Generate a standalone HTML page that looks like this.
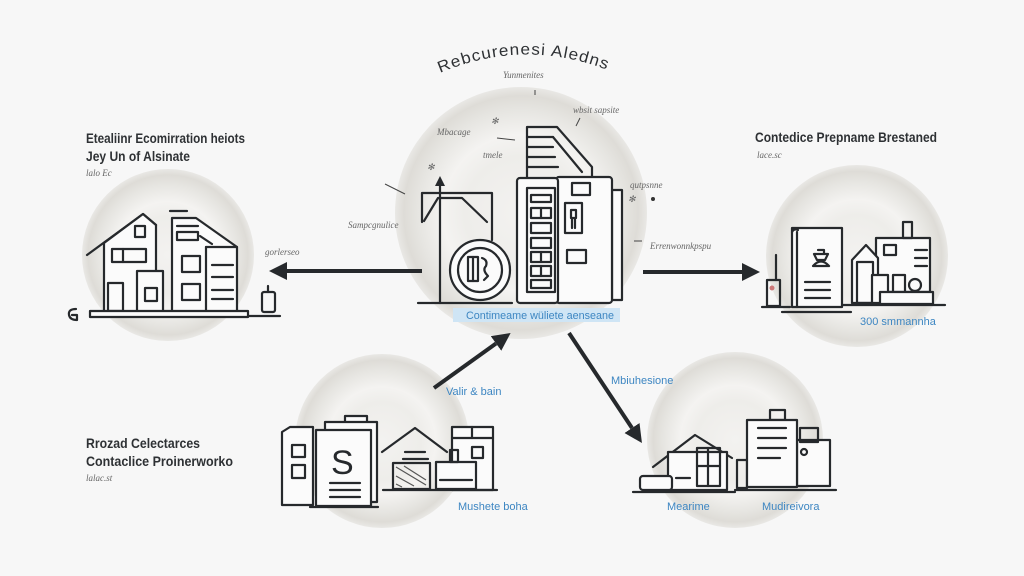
<!DOCTYPE html>
<html><head><meta charset="utf-8"><style>
html,body{margin:0;padding:0;background:#f7f7f7;}
svg{display:block;}
.t{font-family:"Liberation Sans",sans-serif;}
.h{font-family:"Liberation Sans",sans-serif;font-weight:bold;fill:#2e3134;font-size:14px;}
.s{font-family:"Liberation Serif",serif;font-style:italic;fill:#666;font-size:9px;}
.b{font-family:"Liberation Sans",sans-serif;fill:#3d86c2;font-size:11px;}
.k{fill:none;stroke:#26292c;stroke-width:2.2;stroke-linejoin:round;stroke-linecap:round;}
.kw{fill:#fbfbfb;stroke:#26292c;stroke-width:2.2;stroke-linejoin:round;}
.thin{fill:none;stroke:#444;stroke-width:1;}
</style></head><body>
<svg width="1024" height="576" viewBox="0 0 1024 576" xmlns="http://www.w3.org/2000/svg">
<defs>
<radialGradient id="g" cx="50%" cy="50%" r="50%">
<stop offset="0" stop-color="#f3f2f0"/>
<stop offset="0.45" stop-color="#eeedea"/>
<stop offset="0.62" stop-color="#f4f3f1"/>
<stop offset="0.82" stop-color="#e6e5e1"/>
<stop offset="0.93" stop-color="#dedcd7"/>
<stop offset="1" stop-color="#e9e8e5"/>
</radialGradient>
<marker id="ah" markerWidth="20" markerHeight="20" refX="0" refY="9" orient="auto" markerUnits="userSpaceOnUse"><path d="M0,0 L18,9 L0,18 Z" fill="#26292c"/></marker>
</defs>
<rect width="1024" height="576" fill="#f7f7f7"/>

<!-- circles -->
<circle cx="521" cy="213" r="126" fill="url(#g)"/>
<circle cx="168" cy="255" r="86" fill="url(#g)"/>
<circle cx="857" cy="256" r="91" fill="url(#g)"/>
<circle cx="382" cy="441" r="87" fill="url(#g)"/>
<circle cx="735" cy="440" r="88" fill="url(#g)"/>

<!-- title -->
<path id="arc" d="M440,73 Q527,36 615,73" fill="none"/>
<text class="t" font-size="16" fill="#2e3134" letter-spacing="1"><textPath href="#arc" textLength="172" lengthAdjust="spacingAndGlyphs">Rebcurenesi Aledns</textPath></text>

<!-- headings -->
<text class="h" x="86" y="143" textLength="159" lengthAdjust="spacingAndGlyphs">Etealiinr Ecomirration heiots</text>
<text class="h" x="86" y="161" textLength="104" lengthAdjust="spacingAndGlyphs">Jey Un of Alsinate</text>
<text class="s" x="86" y="176">lalo Ec</text>

<text class="h" x="755" y="142" textLength="182" lengthAdjust="spacingAndGlyphs">Contedice Prepname Brestaned</text>
<text class="s" x="757" y="158">lace.sc</text>

<text class="h" x="86" y="448" textLength="114" lengthAdjust="spacingAndGlyphs">Rrozad Celectarces</text>
<text class="h" x="86" y="466" textLength="147" lengthAdjust="spacingAndGlyphs">Contaclice Proinerworko</text>
<text class="s" x="86" y="481">lalac.st</text>

<!-- blue labels -->
<rect x="453" y="308" width="167" height="14" fill="#cfe5f5"/>
<text class="b" x="466" y="319" font-size="10" textLength="148" lengthAdjust="spacingAndGlyphs">Contimeame wüliete aenseane</text>
<text class="b" x="446" y="395" font-size="10">Valir &amp; bain</text>
<text class="b" x="458" y="510" font-size="10">Mushete boha</text>
<text class="b" x="611" y="384" font-size="10">Mbiuhesione</text>
<text class="b" x="667" y="510" font-size="10">Mearime</text>
<text class="b" x="762" y="510" font-size="10">Mudireivora</text>
<text class="b" x="860" y="325" font-size="10">300 smmannha</text>

<!-- scribbles -->
<text class="s" x="503" y="78">Yunmenites</text>
<line x1="535" y1="90" x2="535" y2="95" class="thin"/>
<text class="s" x="437" y="135">Mbacage</text>
<text class="s" x="483" y="158">tmele</text>
<line x1="497" y1="138" x2="515" y2="140" class="thin"/>
<text class="s" x="573" y="113">wbsit sapsite</text>
<line x1="580" y1="118" x2="576" y2="126" class="thin"/>
<text class="s" x="348" y="228">Sampcgnulice</text>
<text class="s" x="630" y="188">qutpsnne</text>
<text class="s" x="650" y="249">Errenwonnkpspu</text>
<text class="s" x="265" y="255">gorlerseo</text>
<text class="s" x="427" y="170">✻</text>
<text class="s" x="491" y="124">✻</text>
<text class="s" x="628" y="202">✻</text>
<circle cx="653" cy="199" r="2" fill="#333"/>
<line x1="385" y1="184" x2="405" y2="194" class="thin"/>
<line x1="634" y1="241" x2="642" y2="241" class="thin"/>

<!-- arrows -->
<line x1="422" y1="271" x2="287" y2="271" stroke="#26292c" stroke-width="4" marker-end="url(#ah)"/>
<line x1="643" y1="272" x2="742" y2="272" stroke="#26292c" stroke-width="4" marker-end="url(#ah)"/>
<line x1="434" y1="388" x2="496" y2="343.5" stroke="#26292c" stroke-width="4" marker-end="url(#ah)"/>
<line x1="569" y1="333" x2="632" y2="428" stroke="#26292c" stroke-width="4" marker-end="url(#ah)"/>

<!-- center drawing -->
<g>
<path class="k" d="M422,222 L422,193 L492,193 L492,240"/>
<path class="k" d="M424,221 L438,198 L462,198 L487,222"/>
<line class="k" x1="440" y1="182" x2="440" y2="303"/>
<path d="M435,186 L440,176 L445,186 Z" fill="#26292c"/>
<circle cx="480" cy="270" r="30" class="kw"/>
<circle cx="480" cy="270" r="22" class="k"/>
<rect x="468" y="257" width="10" height="24" class="k" stroke-width="1.6"/>
<line x1="473" y1="257" x2="473" y2="281" class="k" stroke-width="1.2"/>
<path class="k" stroke-width="1.5" d="M482,258 q6,2 4,8 q-4,4 2,10 l-4,4"/>
<line class="k" x1="418" y1="303" x2="512" y2="303"/>
<!-- tall building -->
<path class="k" d="M527,178 L527,127 L557,127 L592,167 L592,176"/>
<path class="k" d="M553,137 L582,172"/>
<line class="k" x1="527" y1="137" x2="553" y2="137"/>
<line class="k" x1="527" y1="147" x2="553" y2="147"/>
<line class="k" x1="527" y1="157" x2="555" y2="157"/>
<line class="k" x1="527" y1="167" x2="558" y2="167"/>
<rect x="612" y="190" width="10" height="110" class="kw"/>
<rect x="556" y="177" width="56" height="126" rx="3" class="kw"/>
<rect x="517" y="178" width="41" height="125" rx="3" class="kw"/>
<rect x="527" y="188" width="28" height="104" class="k"/>
<rect x="531" y="195" width="20" height="7" class="k" stroke-width="1.8"/>
<rect x="531" y="208" width="20" height="10" class="k" stroke-width="1.8"/>
<line x1="541" y1="208" x2="541" y2="218" class="k" stroke-width="1.6"/>
<rect x="531" y="223" width="20" height="10" class="k" stroke-width="1.8"/>
<rect x="531" y="238" width="20" height="10" class="k" stroke-width="1.8"/>
<rect x="531" y="252" width="20" height="10" class="k" stroke-width="1.8"/>
<line x1="541" y1="252" x2="541" y2="262" class="k" stroke-width="1.6"/>
<rect x="531" y="266" width="20" height="10" class="k" stroke-width="1.8"/>
<line x1="541" y1="266" x2="541" y2="276" class="k" stroke-width="1.6"/>
<rect x="531" y="280" width="20" height="8" class="k" stroke-width="1.8"/>
<rect x="572" y="183" width="18" height="12" class="k" stroke-width="1.8"/>
<rect x="565" y="203" width="17" height="30" class="k" stroke-width="1.8"/>
<path d="M571,210 h5 v8 h-5 z M572,218 v10 M575,218 v10" class="k" stroke-width="1.5"/>
<rect x="567" y="250" width="19" height="13" fill="#dbe9f5" class="k" stroke-width="1.8"/>
</g>

<!-- left drawing -->
<g>
<path class="k" d="M87,255 L143,214 L156,225"/>
<path class="kw" d="M104,243 L104,313 L156,313 L156,225 L143,214 L104,243"/>
<rect x="135" y="226" width="10" height="11" class="k" stroke-width="1.6"/>
<rect x="112" y="249" width="34" height="13" class="k"/>
<line x1="123" y1="249" x2="123" y2="262" class="k"/>
<rect x="108" y="283" width="15" height="28" class="k" stroke-width="1.8"/>
<rect x="137" y="271" width="26" height="42" class="kw"/>
<rect x="145" y="288" width="12" height="13" class="k"/>
<path class="kw" d="M172,218 L196,218 L237,247 L237,313 L172,313 Z"/>
<line x1="206" y1="247" x2="206" y2="313" class="k"/>
<line x1="206" y1="247" x2="237" y2="247" class="k"/>
<line x1="170" y1="211" x2="187" y2="211" class="k"/>
<line x1="177" y1="226" x2="198" y2="226" class="k"/>
<rect x="177" y="232" width="21" height="8" class="k" stroke-width="1.6"/>
<line x1="200" y1="236" x2="212" y2="244" class="k" stroke-width="1.4"/>
<rect x="182" y="256" width="18" height="16" class="k"/>
<rect x="182" y="284" width="18" height="16" class="k"/>
<line x1="212" y1="265" x2="233" y2="265" class="k"/>
<line x1="212" y1="277" x2="233" y2="277" class="k"/>
<line x1="212" y1="290" x2="233" y2="290" class="k"/>
<line x1="212" y1="299" x2="233" y2="299" class="k"/>
<rect x="90" y="311" width="158" height="6" class="kw"/>
<line x1="248" y1="316" x2="280" y2="316" class="k"/>
<path class="k" d="M76,309 q-8,0 -7,6 q1,5 8,5 l0,-5 l-5,0"/>
<rect x="262" y="292" width="13" height="20" rx="2" class="k" stroke-width="1.8"/>
<line x1="268" y1="286" x2="268" y2="292" class="k" stroke-width="1.6"/>
</g>

<!-- right drawing -->
<g>
<line x1="776" y1="255" x2="776" y2="280" class="k" stroke-width="1.8"/>
<rect x="767" y="280" width="13" height="26" class="k" stroke-width="1.8"/>
<circle cx="772" cy="288" r="2.5" fill="#c77"/>
<line x1="762" y1="307" x2="790" y2="307" class="k"/>
<rect x="792" y="228" width="50" height="79" class="kw"/>
<line x1="797" y1="232" x2="797" y2="307" class="k" stroke-width="1.6"/>
<path class="k" d="M792,232 q2,-4 6,-2"/>
<path class="k" d="M814,254 h14 l-3,6 h-8 z M818,250 h6 v4 M813,266 q8,-9 16,0 z"/>
<line x1="805" y1="282" x2="830" y2="282" class="k"/>
<line x1="805" y1="290" x2="830" y2="290" class="k"/>
<line x1="805" y1="298" x2="830" y2="298" class="k"/>
<line x1="782" y1="312" x2="851" y2="312" class="k"/>
<line x1="843" y1="305" x2="945" y2="305" class="k"/>
<rect x="876" y="238" width="54" height="54" class="kw"/>
<rect x="903" y="222" width="9" height="16" class="k" stroke-width="1.8"/>
<rect x="884" y="245" width="12" height="10" class="k" stroke-width="1.6"/>
<line x1="915" y1="250" x2="927" y2="250" class="k" stroke-width="1.6"/>
<line x1="915" y1="258" x2="927" y2="258" class="k" stroke-width="1.6"/>
<line x1="915" y1="266" x2="927" y2="266" class="k" stroke-width="1.6"/>
<path class="kw" d="M852,260 L866,245 L878,258 L878,303 L852,303 Z"/>
<rect x="857" y="262" width="16" height="41" class="k" stroke-width="1.8"/>
<rect x="872" y="275" width="16" height="28" class="kw" stroke-width="1.8"/>
<rect x="893" y="275" width="12" height="22" class="k" stroke-width="1.6"/>
<circle cx="915" cy="285" r="6" class="k" stroke-width="1.6"/>
<rect x="880" y="292" width="53" height="12" class="kw"/>
</g>

<!-- bottom-left drawing -->
<g>
<path class="kw" d="M282,432 L290,427 L313,427 L313,505 L282,505 Z"/>
<rect x="292" y="445" width="13" height="12" class="k" stroke-width="1.8"/>
<rect x="292" y="465" width="13" height="13" class="k" stroke-width="1.8"/>
<rect x="345" y="416" width="22" height="7" class="kw"/>
<rect x="325" y="422" width="52" height="80" class="kw"/>
<rect x="316" y="430" width="55" height="76" class="kw"/>
<text x="331" y="474" font-family="Liberation Sans,sans-serif" font-size="34" fill="#26292c">S</text>
<line x1="330" y1="483" x2="360" y2="483" class="k"/>
<line x1="330" y1="490" x2="360" y2="490" class="k"/>
<line x1="330" y1="497" x2="360" y2="497" class="k"/>
<line x1="310" y1="507" x2="378" y2="507" class="k"/>
<path class="k" d="M382,452 L415,428 L447,452"/>
<line x1="405" y1="452" x2="425" y2="452" class="k" stroke-width="1.8"/>
<line x1="403" y1="459" x2="428" y2="459" class="k" stroke-width="1.8"/>
<rect x="393" y="463" width="37" height="26" fill="#d8d8d8" class="k" stroke-width="2"/>
<path d="M396,467 l30,18 M396,476 l18,10 M404,466 l22,14 M396,484 l6,3" stroke="#555" stroke-width="1.2"/>
<rect x="452" y="427" width="41" height="63" class="kw"/>
<line x1="452" y1="438" x2="493" y2="438" class="k"/>
<line x1="472" y1="427" x2="472" y2="438" class="k" stroke-width="1.6"/>
<rect x="472" y="447" width="11" height="11" class="k" stroke-width="1.8"/>
<rect x="436" y="462" width="40" height="27" class="kw"/>
<rect x="450" y="450" width="8" height="12" class="k" stroke-width="1.6"/>
<line x1="440" y1="480" x2="472" y2="480" class="k" stroke-width="1.4"/>
<line x1="383" y1="490" x2="497" y2="490" class="k"/>
</g>

<!-- bottom-right drawing -->
<g>
<path class="k" d="M653,467 L695,435 L732,458"/>
<rect x="668" y="452" width="59" height="38" class="kw"/>
<rect x="697" y="448" width="23" height="38" fill="#e6e8f2" class="k" stroke-width="1.8"/>
<line x1="708" y1="448" x2="708" y2="486" class="k" stroke-width="1.6"/>
<line x1="697" y1="466" x2="720" y2="466" class="k" stroke-width="1.6"/>
<rect x="640" y="476" width="32" height="14" rx="3" class="kw" stroke-width="1.8"/>
<line x1="676" y1="478" x2="690" y2="478" class="k" stroke-width="1.6"/>
<line x1="633" y1="492" x2="735" y2="492" class="k"/>
<rect x="737" y="460" width="10" height="28" class="k" stroke-width="1.6"/>
<rect x="770" y="410" width="15" height="10" class="k" stroke-width="1.8"/>
<rect x="797" y="440" width="33" height="46" class="kw"/>
<rect x="800" y="428" width="18" height="14" class="k" stroke-width="1.6"/>
<rect x="747" y="420" width="50" height="67" class="kw"/>
<line x1="758" y1="428" x2="786" y2="428" class="k"/>
<line x1="758" y1="438" x2="786" y2="438" class="k"/>
<line x1="758" y1="448" x2="786" y2="448" class="k"/>
<line x1="758" y1="458" x2="780" y2="458" class="k"/>
<circle cx="804" cy="452" r="3" class="k" stroke-width="1.4"/>
<line x1="735" y1="490" x2="836" y2="490" class="k"/>
</g>
</svg>
</body></html>
